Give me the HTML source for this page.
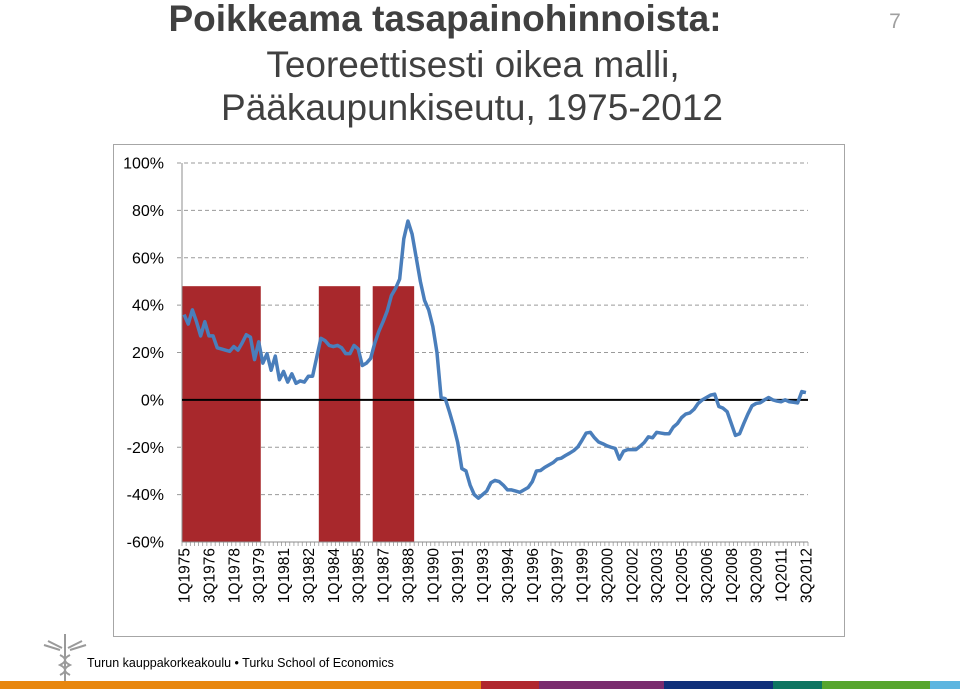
<!DOCTYPE html>
<html><head><meta charset="utf-8"><style>
body{margin:0;width:960px;height:691px;overflow:hidden;background:#fff;font-family:"Liberation Sans",sans-serif}
svg{position:absolute;left:0;top:0}
</style></head><body>
<svg width="960" height="691">
<text x="445" y="31" text-anchor="middle" font-size="37" font-weight="bold" fill="#404040">Poikkeama tasapainohinnoista:</text>
<text x="473" y="77" text-anchor="middle" font-size="37" fill="#404040">Teoreettisesti oikea malli,</text>
<text x="472" y="120" text-anchor="middle" font-size="37" fill="#404040">Pääkaupunkiseutu, 1975-2012</text>
<text x="895" y="28" text-anchor="middle" font-size="21" fill="#a0a0a0">7</text>
<rect x="113.5" y="144.5" width="731" height="492" fill="none" stroke="#a6a6a6"/>
<g id="chart"></g>
<g stroke="#9a9a9a" fill="none" stroke-width="2">
<line x1="65" y1="634" x2="65" y2="686"/>
<path d="M44 645 L60 650 M86 645 L70 650 M48 641 L62 648 M82 641 L68 648"/>
<path d="M60 655 Q70 660 60 665 Q70 670 60 675 M70 655 Q60 660 70 665 Q60 670 70 675"/>
</g>
<text x="87" y="667" font-size="12.5" fill="#000">Turun kauppakorkeakoulu • Turku School of Economics</text>
<g>
<rect x="0" y="681" width="481" height="8" fill="#e8870f"/>
<rect x="481" y="681" width="58" height="8" fill="#b0272e"/>
<rect x="539" y="681" width="125" height="8" fill="#7a2b6e"/>
<rect x="664" y="681" width="109" height="8" fill="#0f2f7a"/>
<rect x="773" y="681" width="49" height="8" fill="#0d7561"/>
<rect x="822" y="681" width="108" height="8" fill="#57a52d"/>
<rect x="930" y="681" width="30" height="8" fill="#5db5e0"/>
</g>
</svg>
<script>
const values=[36,32,38,33,27,33,27,27,22,21.5,21,20.5,22.5,21,24,27.5,26.5,17,24.5,15.5,19.5,12.5,18.5,8.5,12,7.5,11,7,8,7.5,10,10,18,26,25,23,22.5,23,22,19.5,19.5,23,21.5,14.5,15.5,17.5,24,29,33,37.5,44,47,51,68,75.5,70,60,50,42,38,31,20,1,0.5,-5,-11,-18,-29,-30,-36,-40,-41.5,-40,-38.5,-35,-34,-34.5,-36,-38,-38,-38.5,-39,-38,-37,-34.5,-30,-29.8,-28.5,-27.5,-26.5,-25,-24.6,-23.5,-22.5,-21.4,-19.8,-17,-14,-13.7,-16,-17.8,-18.5,-19.4,-20,-20.5,-25,-21.7,-21,-21,-21,-19.6,-18,-15.6,-16,-13.7,-14,-14.3,-14.3,-11.5,-10,-7.5,-6,-5.5,-4,-1.5,0,1,2,2.4,-2.8,-3.5,-5,-10,-15,-14.3,-10,-6,-2.5,-1.5,-1.2,0,1,0,-0.5,-0.8,0,-0.8,-1,-1.3,3.5,3.1];
const periodStart=[0,33,46];
const periodEnd=[18,42,55];
const periodLevel=48;
const yTicks=[100,80,60,40,20,0,-20,-40,-60];
const firstYear=1975;
const NS='http://www.w3.org/2000/svg';
const g=document.getElementById('chart');
const X0=182,X1=808,Y0=163,Y1=542,YMAX=100,YMIN=-60;
const n=values.length;
const bw=(X1-X0)/n;
const xs=i=>X0+(i+0.5)*bw;
const ys=v=>Y0+(YMAX-v)/(YMAX-YMIN)*(Y1-Y0);
function mk(t,a){const e=document.createElementNS(NS,t);for(const k in a)e.setAttribute(k,a[k]);g.appendChild(e);return e;}
yTicks.forEach(t=>{
 if(t!==0&&t!==YMIN){const l=mk('line',{x1:X0-5,x2:X1,y1:ys(t),y2:ys(t),stroke:'#9a9a9a','stroke-dasharray':'4 3'});
 
 }
 const tx=mk('text',{x:164,y:ys(t)+5.5,'text-anchor':'end','font-size':16,fill:'#000'});tx.textContent=t+'%';
 
 
});
periodStart.forEach((s,k)=>{
 const r=mk('rect',{x:X0+s*bw,y:ys(periodLevel),width:(periodEnd[k]-s+1)*bw,height:ys(YMIN)-ys(periodLevel),fill:'#a8282c'});
 
 
});
const ya=mk('line',{x1:X0,x2:X0,y1:Y0,y2:Y1,stroke:'#8c8c8c'});


const xa=mk('line',{x1:X0,x2:X1,y1:Y1,y2:Y1,stroke:'#8c8c8c'});


for(let i=0;i<=n;i++){const tk=mk('line',{x1:X0+i*bw,x2:X0+i*bw,y1:Y1,y2:Y1+4,stroke:'#8c8c8c','stroke-width':0.7});
 
 }
const zl=mk('line',{x1:X0,x2:X1,y1:ys(0),y2:ys(0),stroke:'#000','stroke-width':2});


const p=mk('polyline',{points:values.map((v,i)=>xs(i)+','+ys(v)).join(' '),fill:'none',stroke:'#4a7ebb','stroke-width':3.5,'stroke-linejoin':'round'});


for(let i=0;i<n;i+=6){
 const lab=(i%4+1)+'Q'+(firstYear+Math.floor(i/4));
 const x=xs(i)+5.5,y=Y1+6;
 const tx=mk('text',{x:x,y:y,'text-anchor':'end','font-size':15.5,fill:'#000',transform:`rotate(-90 ${x} ${y})`});
 tx.textContent=lab;
 
 
}
</script>
</body></html>
